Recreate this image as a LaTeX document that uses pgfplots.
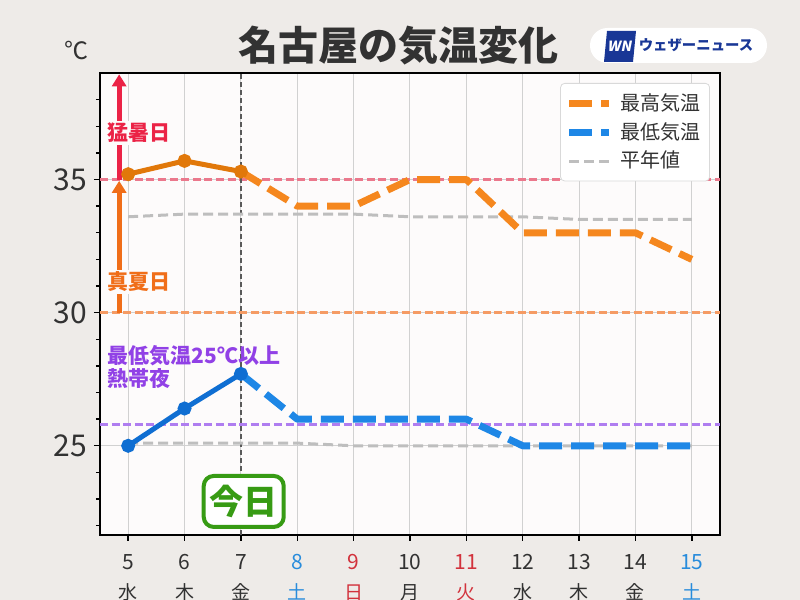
\documentclass[border=0pt]{standalone}
\usepackage{fontspec}
\setmainfont{Noto Sans CJK JP}
\usepackage{pgfplots}
\pgfplotsset{compat=1.18}
\usetikzlibrary{arrows.meta}

\definecolor{bgout}{RGB}{238,235,232}
\definecolor{plotbg}{RGB}{253,251,251}
\definecolor{txtgray}{RGB}{50,50,50}
\definecolor{maxsolid}{RGB}{225,120,10}
\definecolor{maxdash}{RGB}{245,135,30}
\definecolor{minsolid}{RGB}{15,110,210}
\definecolor{mindash}{RGB}{30,135,230}
\definecolor{normgray}{RGB}{190,190,190}
\definecolor{refred}{RGB}{235,120,140}
\definecolor{reforange}{RGB}{245,155,100}
\definecolor{refpurple}{RGB}{175,125,240}
\definecolor{labred}{RGB}{235,35,70}
\definecolor{laborange}{RGB}{240,110,25}
\definecolor{labpurple}{RGB}{145,65,230}
\definecolor{todaygreen}{RGB}{55,155,20}
\definecolor{satblue}{RGB}{40,140,220}
\definecolor{sunred}{RGB}{210,50,60}
\definecolor{wnnavy}{RGB}{25,55,150}

\newcommand{\xl}[3]{\textcolor{#3}{#1}\\\fontsize{9.5}{15}\selectfont\textcolor{#3}{#2}}

\pgfplotstableread{
x  y
5  35.2
6  35.7
7  35.3
}\maxobs
\pgfplotstableread{
x  y
7  35.3
8  34
9  34
10 35
11 35
12 33
13 33
14 33
15 32
}\maxfc
\pgfplotstableread{
x  y
5  25.0
6  26.4
7  27.7
}\minobs
\pgfplotstableread{
x  y
7  27.7
8  26
9  26
10 26
11 26
12 25
13 25
14 25
15 25
}\minfc
\pgfplotstableread{
x  y
5  33.6
6  33.7
7  33.7
8  33.7
9  33.7
10 33.6
11 33.6
12 33.6
13 33.5
14 33.5
15 33.5
}\maxnorm
\pgfplotstableread{
x  y
5  25.1
6  25.1
7  25.1
8  25.1
9  25.0
10 25.0
11 25.0
12 25.0
13 25.0
14 25.0
15 25.0
}\minnorm

\begin{document}
\begin{tikzpicture}[x=1pt,y=1pt]
\fill[bgout] (0,0) rectangle (400,300);
\begin{axis}[
  at={(50pt,32.5pt)}, anchor=south west,
  scale only axis, width=310pt, height=231pt,
  xmin=4.5, xmax=15.5, ymin=21.65, ymax=39,
  axis background/.style={fill=plotbg},
  axis line style={black, line width=1.2pt},
  xtick={5,...,15}, ytick={25,30,35}, minor ytick={22,...,38},
  xtick pos=left, ytick pos=left,
  tick align=outside, major tick length=3pt, minor tick length=2pt,
  every tick/.style={black, line width=0.7pt},
  grid=major, major grid style={black!18, line width=0.5pt},
  /pgf/number format/assume math mode=true,
  yticklabel style={font=\fontsize{15}{15}\selectfont, text=txtgray},
  xticklabels={\xl{5}{水}{txtgray},\xl{6}{木}{txtgray},\xl{7}{金}{txtgray},\xl{8}{土}{satblue},\xl{9}{日}{sunred},\xl{10}{月}{txtgray},\xl{11}{火}{sunred},\xl{12}{水}{txtgray},\xl{13}{木}{txtgray},\xl{14}{金}{txtgray},\xl{15}{土}{satblue}},
  xticklabel style={align=center, font=\fontsize{10.5}{15}\selectfont, text=txtgray, yshift=-3pt},
  legend style={at={(1,1)}, anchor=north east, xshift=-5pt, yshift=-5pt, draw=black!15, rounded corners=2pt, fill=white, font=\fontsize{10}{10}\selectfont, text=txtgray, row sep=0.5pt, inner xsep=2.5pt, inner ysep=3pt},
  legend cell align=left,
  legend image code/.code={\draw[#1] (0pt,0pt) -- (20pt,0pt); \path (22pt,0pt);},
]
\addplot[forget plot, refred, line width=1.3pt, dash pattern=on 4pt off 1.8pt] coordinates {(4.5,35) (15.5,35)};
\addplot[forget plot, reforange, line width=1.3pt, dash pattern=on 4pt off 1.8pt] coordinates {(4.5,30) (15.5,30)};
\addplot[forget plot, refpurple, line width=1.3pt, dash pattern=on 4pt off 1.8pt] coordinates {(4.5,25.8) (15.5,25.8)};
\addplot[forget plot, black!65, line width=0.6pt, dash pattern=on 2.5pt off 1.5pt] coordinates {(7,21.65) (7,39)};
\addplot[forget plot, normgray, line width=1.5pt, dash pattern=on 5pt off 2.5pt] table {\maxnorm};
\addplot[forget plot, normgray, line width=1.5pt, dash pattern=on 5pt off 2.5pt] table {\minnorm};
\addplot[forget plot, maxsolid, line width=2.5pt, mark=*, mark size=2.2pt] table {\maxobs};
\addplot[maxdash, line width=3.5pt, dash pattern=on 11.5pt off 4.5pt, line join=round] table {\maxfc};
\addlegendentry{最高気温}
\addplot[forget plot, minsolid, line width=2.5pt, mark=*, mark size=2.2pt] table {\minobs};
\addplot[mindash, line width=3.5pt, dash pattern=on 11.5pt off 4.5pt, line join=round] table {\minfc};
\addlegendentry{最低気温}
\addlegendimage{normgray, line width=1.5pt, dash pattern=on 5pt off 2.5pt}
\addlegendentry{平年値}

\draw[labred, line width=2.4pt, -{Triangle[width=7pt,length=6pt]}] (axis cs:4.84,35) -- (axis cs:4.84,38.95);
\draw[laborange, line width=2.4pt, -{Triangle[width=7pt,length=6pt]}] (axis cs:4.84,30) -- (axis cs:4.84,34.95);
\node[anchor=west, fill=plotbg, inner sep=1pt, text=labred, font=\bfseries\fontsize{10.5}{10.5}\selectfont] at (axis cs:4.59,36.76) {猛暑日};
\node[anchor=west, fill=plotbg, inner sep=1pt, text=laborange, font=\bfseries\fontsize{10.5}{10.5}\selectfont] at (axis cs:4.59,31.16) {真夏日};
\node[anchor=west, inner sep=1pt, text=labpurple, font=\bfseries\fontsize{10.5}{10.5}\selectfont] at (axis cs:4.59,28.38) {最低気温25℃以上};
\node[anchor=west, inner sep=1pt, text=labpurple, font=\bfseries\fontsize{10.5}{10.5}\selectfont] at (axis cs:4.59,27.52) {熱帯夜};
\node[draw=todaygreen, line width=2pt, rounded corners=5pt, fill=white, text=todaygreen, font=\bfseries\fontsize{17}{17}\selectfont, minimum width=40pt, minimum height=25.5pt, inner sep=0pt] at (axis cs:7.05,22.91) {今日};
\end{axis}
\node[font=\bfseries\fontsize{20}{20}\selectfont, text=txtgray] at (199.25,277.25) {名古屋の気温変化};
\node[font=\fontsize{12}{12}\selectfont, text=txtgray] at (38.25,274.5) {℃};
\fill[white, rounded corners=8.75pt] (295,268.5) rectangle (383.5,286);
\fill[wnnavy] (302,269) -- (316.5,269) -- (318,284.5) -- (303.5,284.5) -- cycle;
\node[text=white, font=\bfseries\fontsize{7}{7}\selectfont, xslant=0.2, inner sep=0pt] at (310.2,276.8) {WN};
\node[text=wnnavy, font=\bfseries\fontsize{7.2}{7.2}\selectfont, inner sep=0pt] at (348,277.3) {ウェザーニュース};
\pgfresetboundingbox
\path[use as bounding box] (0,0) rectangle (400,300);
\end{tikzpicture}
\end{document}
